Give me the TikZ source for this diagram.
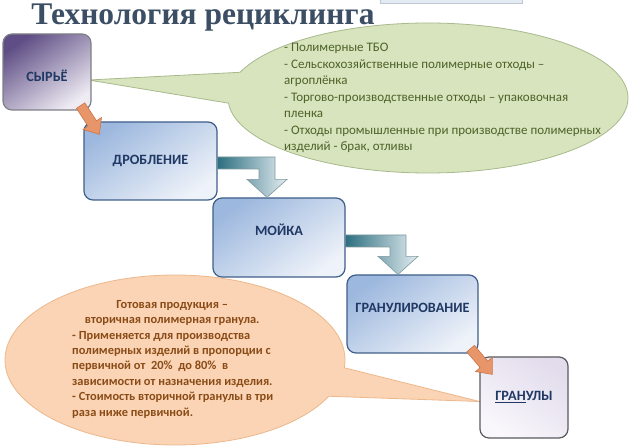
\documentclass[tikz,border=0pt]{standalone}
\usepackage{fontspec}
\setmainfont{Carlito}
\newfontfamily\titlefont{Liberation Serif}
\usetikzlibrary{shapes.callouts,calc,backgrounds}
\definecolor{titlec}{HTML}{3B4E63}
\definecolor{boxtxt}{HTML}{1F3864}
\definecolor{boxdark}{HTML}{9DB8DE}
\definecolor{boxlight}{HTML}{EEF2F9}
\definecolor{boxedge}{HTML}{3F5F8A}
\definecolor{rawdark}{HTML}{5F4E85}
\definecolor{rawlight}{HTML}{EEEBF3}
\definecolor{rawedge}{HTML}{7F7F86}
\definecolor{grdark}{HTML}{E2DCEC}
\definecolor{grlight}{HTML}{F9F7FC}
\definecolor{gredge}{HTML}{5A5A60}
\definecolor{greenfill}{HTML}{D7E4BD}
\definecolor{greenedge}{HTML}{A9B98C}
\definecolor{greentxt}{HTML}{4F6228}
\definecolor{orfill}{HTML}{FAD4B4}
\definecolor{oredge}{HTML}{EDB88C}
\definecolor{ortxt}{HTML}{8A4B17}
\definecolor{orarrow}{HTML}{E8956A}
\definecolor{orarrowedge}{HTML}{C9764A}
\definecolor{tealdark}{HTML}{2D6F80}
\definecolor{teallight}{HTML}{E3ECF1}
\definecolor{tealedge}{HTML}{7E9A9E}
\definecolor{topboxfill}{HTML}{E4EAF1}
\definecolor{topboxedge}{HTML}{BCC8D4}
\tikzset{
  stagebox/.style={rectangle, rounded corners=9pt, draw=boxedge, line width=1.2pt,
    top color=boxdark, bottom color=boxlight, shading angle=35,
    font=\bfseries\fontsize{14.2}{16}\selectfont, text=boxtxt, inner sep=0pt,
    text height=9pt, text depth=2pt},
  rawbox/.style={stagebox, draw=rawedge, top color=rawdark, bottom color=rawlight, shading angle=35},
  granbox/.style={stagebox, draw=gredge, top color=grdark, bottom color=grlight, shading angle=-35},
  bentstyle/.style={left color=tealdark, right color=teallight, draw=tealedge, line width=0.6pt},
  blockstyle/.style={fill=orarrow, draw=orarrowedge, line width=0.6pt},
  gtext/.style={font=\fontsize{13}{16.5}\selectfont, text=greentxt, align=left, inner sep=0pt},
  otext/.style={font=\bfseries\fontsize{12.4}{15.4}\selectfont, text=ortxt, align=left, inner sep=0pt},
}
\newcommand\bentarrow[2]{%
  \draw[bentstyle] let \p1=(#1), \p2=(#2) in
  (\x1,\y1+6pt) -- (\x2+8pt,\y1+6pt) -- (\x2+8pt,\y2+18pt) -- (\x2+20pt,\y2+18pt) --
  (\x2,\y2) -- (\x2-20pt,\y2+18pt) -- (\x2-8pt,\y2+18pt) -- (\x2-8pt,\y1-6pt) --
  (\x1,\y1-6pt) -- cycle;}
\newcommand\blockarrow[2]{%
  \draw[blockstyle] let \p1=(#1), \p2=(#2), \n1={atan2(\y2-\y1,\x2-\x1)},
    \n2={veclen(\x2-\x1,\y2-\y1)-13} in
  ($(\p1)+(\n1+90:5pt)$) -- ($(\p1)+(\n1:\n2)+(\n1+90:5pt)$) --
  ($(\p1)+(\n1:\n2)+(\n1+90:11pt)$) -- (\p2) --
  ($(\p1)+(\n1:\n2)+(\n1-90:11pt)$) -- ($(\p1)+(\n1:\n2)+(\n1-90:5pt)$) --
  ($(\p1)+(\n1-90:5pt)$) -- cycle;}
\begin{document}
\begin{tikzpicture}[x=1pt,y=-1pt]
\useasboundingbox (0,0) rectangle (630,446);
% top faint box
\draw[draw=topboxedge, fill=topboxfill] (380,-5) rectangle (522,3);
% title
\node[font=\titlefont\bfseries\fontsize{31.5}{33}\selectfont, text=titlec, anchor=base, inner sep=0pt] (title) at (203,25) {Технология рециклинга};
% boxes
\node[rawbox, minimum width=88pt, minimum height=76pt, text height=19pt, text depth=0pt] (raw) at (47,72) {СЫРЬЁ};
\node[stagebox, minimum width=133pt, minimum height=78pt] (drob) at (150.5,161) {ДРОБЛЕНИЕ};
\node[stagebox, minimum width=132pt, minimum height=79pt, text depth=12pt] (moika) at (279,237.5) {МОЙКА};
\node[stagebox, minimum width=131pt, minimum height=78pt, text depth=12pt] (gran) at (412.5,314) {ГРАНУЛИРОВАНИЕ};
\node[granbox, minimum width=88pt, minimum height=81pt] (granuly) at (524,397.5) {\underline{ГРАН}УЛЫ};
% arrows
\bentarrow{$(drob.east)+(0,2)$}{$(moika.north)+(-12,0)$}
\bentarrow{$(moika.east)+(0,3.5)$}{$(gran.north)+(-14.5,0)$}
\blockarrow{$(raw.south east)+(-11,-5)$}{$(drob.north west)+(16,13)$}
\blockarrow{$(gran.south east)+(-8,-5)$}{$(granuly.north west)+(13,18)$}
% callout texts
\node[gtext, anchor=north west] (gt) at (284,43) {- Полимерные ТБО\\
- Сельскохозяйственные полимерные отходы –\\
агроплёнка\\
- Торгово-производственные отходы – упаковочная\\
пленка\\
- Отходы промышленные при производстве полимерных\\
изделий - брак, отливы};
\node[otext, anchor=north west] (ot) at (72,300) {\makebox[200pt][c]{Готовая продукция –}\\
\makebox[200pt][c]{вторичная полимерная гранула.}\\
- Применяется для производства\\
полимерных изделий в пропорции с\\
первичной от~ 20\%~ до 80\%~ в\\
зависимости от назначения изделия.\\
- Стоимость вторичной гранулы в три\\
раза ниже первичной.};
\begin{pgfonlayer}{background}
\fill[white] (0,0) rectangle (630,446);
\node[ellipse callout, draw=greenedge, fill=greenfill, line width=0.8pt,
  minimum width=400pt, minimum height=150pt,
  callout absolute pointer={($(raw.east)+(-3,8)$)}, callout pointer arc=24] (gcall) at (428,98) {};
\node[ellipse callout, draw=oredge, fill=orfill, line width=0.8pt,
  minimum width=340pt, minimum height=170pt,
  callout absolute pointer={($(granuly.west)+(0,4)$)}, callout pointer arc=20] (ocall) at (175,360) {};
\end{pgfonlayer}
\end{tikzpicture}
\end{document}
